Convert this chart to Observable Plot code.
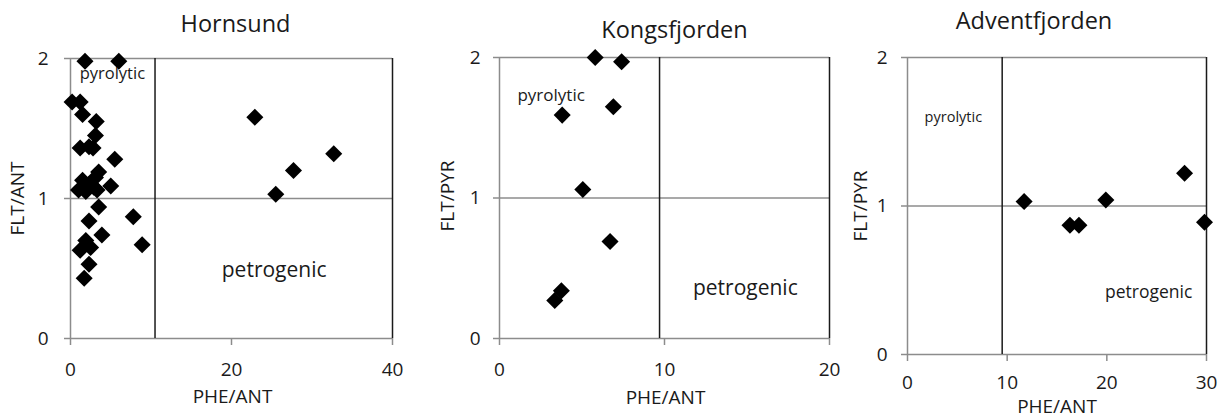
<!DOCTYPE html>
<html>
<head>
<meta charset="utf-8">
<script src="https://cdn.jsdelivr.net/npm/d3@7"></script>
<script src="https://cdn.jsdelivr.net/npm/@observablehq/plot@0.6"></script>
<style>
  html, body { margin: 0; padding: 0; background: #fff; }
  #chart { position: relative; width: 1229px; height: 419px; overflow: hidden; }
  #chart svg { position: absolute; left: 0; top: 0; overflow: visible; }
</style>
</head>
<body>
<div id="chart"></div>
<script>
// ---- Data ----
const hornsundPHE_ANT = [1.8, 6.0, 0.2, 1.2, 1.5, 3.2, 3.1, 1.2, 2.3, 2.8, 5.5, 3.5, 1.5, 3.1, 1.0, 1.9, 2.9, 3.3, 2.3, 5.0, 3.5, 7.8, 2.3, 3.9, 8.9, 1.9, 2.5, 1.2, 2.3, 1.7, 22.9, 32.7, 27.7, 25.5];
const hornsundFLT_ANT = [1.98, 1.98, 1.69, 1.69, 1.60, 1.55, 1.45, 1.36, 1.37, 1.36, 1.28, 1.19, 1.13, 1.15, 1.06, 1.05, 1.08, 1.06, 1.10, 1.09, 0.94, 0.87, 0.84, 0.74, 0.67, 0.70, 0.65, 0.63, 0.53, 0.43, 1.58, 1.32, 1.20, 1.03];

const kongsPHE_ANT = [5.8, 7.4, 6.9, 3.8, 5.05, 6.7, 3.75, 3.35];
const kongsFLT_PYR = [2.0, 1.97, 1.65, 1.59, 1.06, 0.69, 0.34, 0.27];

const adventPHE_ANT = [11.7, 16.3, 17.2, 19.9, 27.8, 29.8];
const adventFLT_PYR = [1.03, 0.87, 0.87, 1.04, 1.22, 0.89];

const titles = ["Hornsund", "Kongsfjorden", "Adventfjorden"];
const yLabels = ["FLT/ANT", "FLT/PYR", "FLT/PYR"];
const xLabel = "PHE/ANT";
const regionLabels = ["pyrolytic", "petrogenic"];

const hornsundXTicks = [0, 20, 40];
const kongsXTicks = [0, 10, 20];
const adventXTicks = [0, 10, 20, 30];
const yTicks = [0, 1, 2];
const gridY = [1, 2];

const hornsundDividers = [10.5, 40];
const kongsDividers = [9.7, 20];
const adventDividers = [9.5, 30];

// annotation anchor positions in data units
const hornsundRegionX = [5.2, 25.3], hornsundRegionY = [1.89, 0.49];
const kongsRegionX = [3.13, 14.9], kongsRegionY = [1.73, 0.357];
const adventRegionX = [4.6, 24.2], adventRegionY = [1.596, 0.418];

// ---- Drawing ----
const W = 1229, H = 419;
const GRAY = "#8c8c8c", INK = "#1a1a1a", FONT = "'Open Sans', sans-serif";
const fmt = d3.format("d");

function panel(cfg) {
  const pts = cfg.xs.map((x, i) => ({x, y: cfg.ys[i]}));
  const ann = regionLabels.map((t, i) => ({t, x: cfg.rx[i], y: cfg.ry[i], fs: cfg.annSize[i]}));
  return Plot.plot({
    width: W, height: H,
    marginLeft: cfg.ml, marginRight: cfg.mr, marginTop: cfg.mt, marginBottom: cfg.mb,
    style: {fontFamily: FONT, background: "transparent", overflow: "visible", color: INK},
    x: {type: "linear", domain: cfg.xDomain, axis: null},
    y: {type: "linear", domain: [0, 2], axis: null},
    marks: [
      Plot.ruleY(gridY, {stroke: GRAY, strokeWidth: 1.5}),
      Plot.ruleY([0], {stroke: GRAY, strokeWidth: 1.5}),
      Plot.ruleX([0], {stroke: GRAY, strokeWidth: 1.5}),
      Plot.axisX({ticks: cfg.xTicks, tickFormat: fmt, tickSize: 7, tickPadding: cfg.xPad, stroke: GRAY, strokeWidth: 1.5, fill: INK, fontSize: 19, label: null}),
      Plot.axisY({ticks: yTicks, tickFormat: fmt, tickSize: 6, tickPadding: cfg.yPad, stroke: GRAY, strokeWidth: 1.5, fill: INK, fontSize: 19, label: null}),
      Plot.ruleX(cfg.dividers, {y1: 0, y2: 2, stroke: INK, strokeWidth: 1.5}),
      Plot.dot(pts, {x: "x", y: "y", symbol: "square", rotate: 45, r: 6.8, fill: "#000", stroke: null}),
      Plot.text(ann, {x: "x", y: "y", text: "t", fontSize: d => d.fs, fill: INK, textAnchor: "middle", lineAnchor: "middle"}),
      Plot.text([cfg.title], {frameAnchor: "top", dx: cfg.tdx, dy: cfg.tdy, fontSize: 23.5, fill: INK, textAnchor: "middle", lineAnchor: "middle"}),
      Plot.text([cfg.yLabel], {frameAnchor: "left", dx: cfg.ydx, dy: cfg.ydy, rotate: -90, fontSize: 19, fill: INK, textAnchor: "middle", lineAnchor: "middle"}),
      Plot.text([xLabel], {frameAnchor: "bottom", dx: cfg.xdx, dy: cfg.xdy, fontSize: 19, fill: INK, textAnchor: "middle", lineAnchor: "middle"})
    ]
  });
}

const panels = [
  panel({xs: hornsundPHE_ANT, ys: hornsundFLT_ANT, xDomain: [0, 40], xTicks: hornsundXTicks, dividers: hornsundDividers,
         ml: 70, mr: W - 392, mt: 58, mb: H - 338, xPad: 17, yPad: 16,
         rx: hornsundRegionX, ry: hornsundRegionY, annSize: [16.5, 21],
         title: titles[0], tdx: 4, tdy: -34, yLabel: yLabels[0], ydx: -53, ydy: 0, xdx: 1, xdy: 58}),
  panel({xs: kongsPHE_ANT, ys: kongsFLT_PYR, xDomain: [0, 20], xTicks: kongsXTicks, dividers: kongsDividers,
         ml: 499, mr: W - 829, mt: 57, mb: H - 338, xPad: 17, yPad: 13,
         rx: kongsRegionX, ry: kongsRegionY, annSize: [17, 21],
         title: titles[1], tdx: 10, tdy: -27, yLabel: yLabels[1], ydx: -52, ydy: -2, xdx: 1, xdy: 59}),
  panel({xs: adventPHE_ANT, ys: adventFLT_PYR, xDomain: [0, 30], xTicks: adventXTicks, dividers: adventDividers,
         ml: 907, mr: W - 1206, mt: 57, mb: H - 354, xPad: 14, yPad: 14,
         rx: adventRegionX, ry: adventRegionY, annSize: [14.5, 17.5],
         title: titles[2], tdx: -23, tdy: -36, yLabel: yLabels[2], ydx: -47, ydy: 0, xdx: 0, xdy: 52})
];
const chart = document.getElementById("chart");
panels.forEach(p => chart.appendChild(p));
</script>
</body>
</html>
